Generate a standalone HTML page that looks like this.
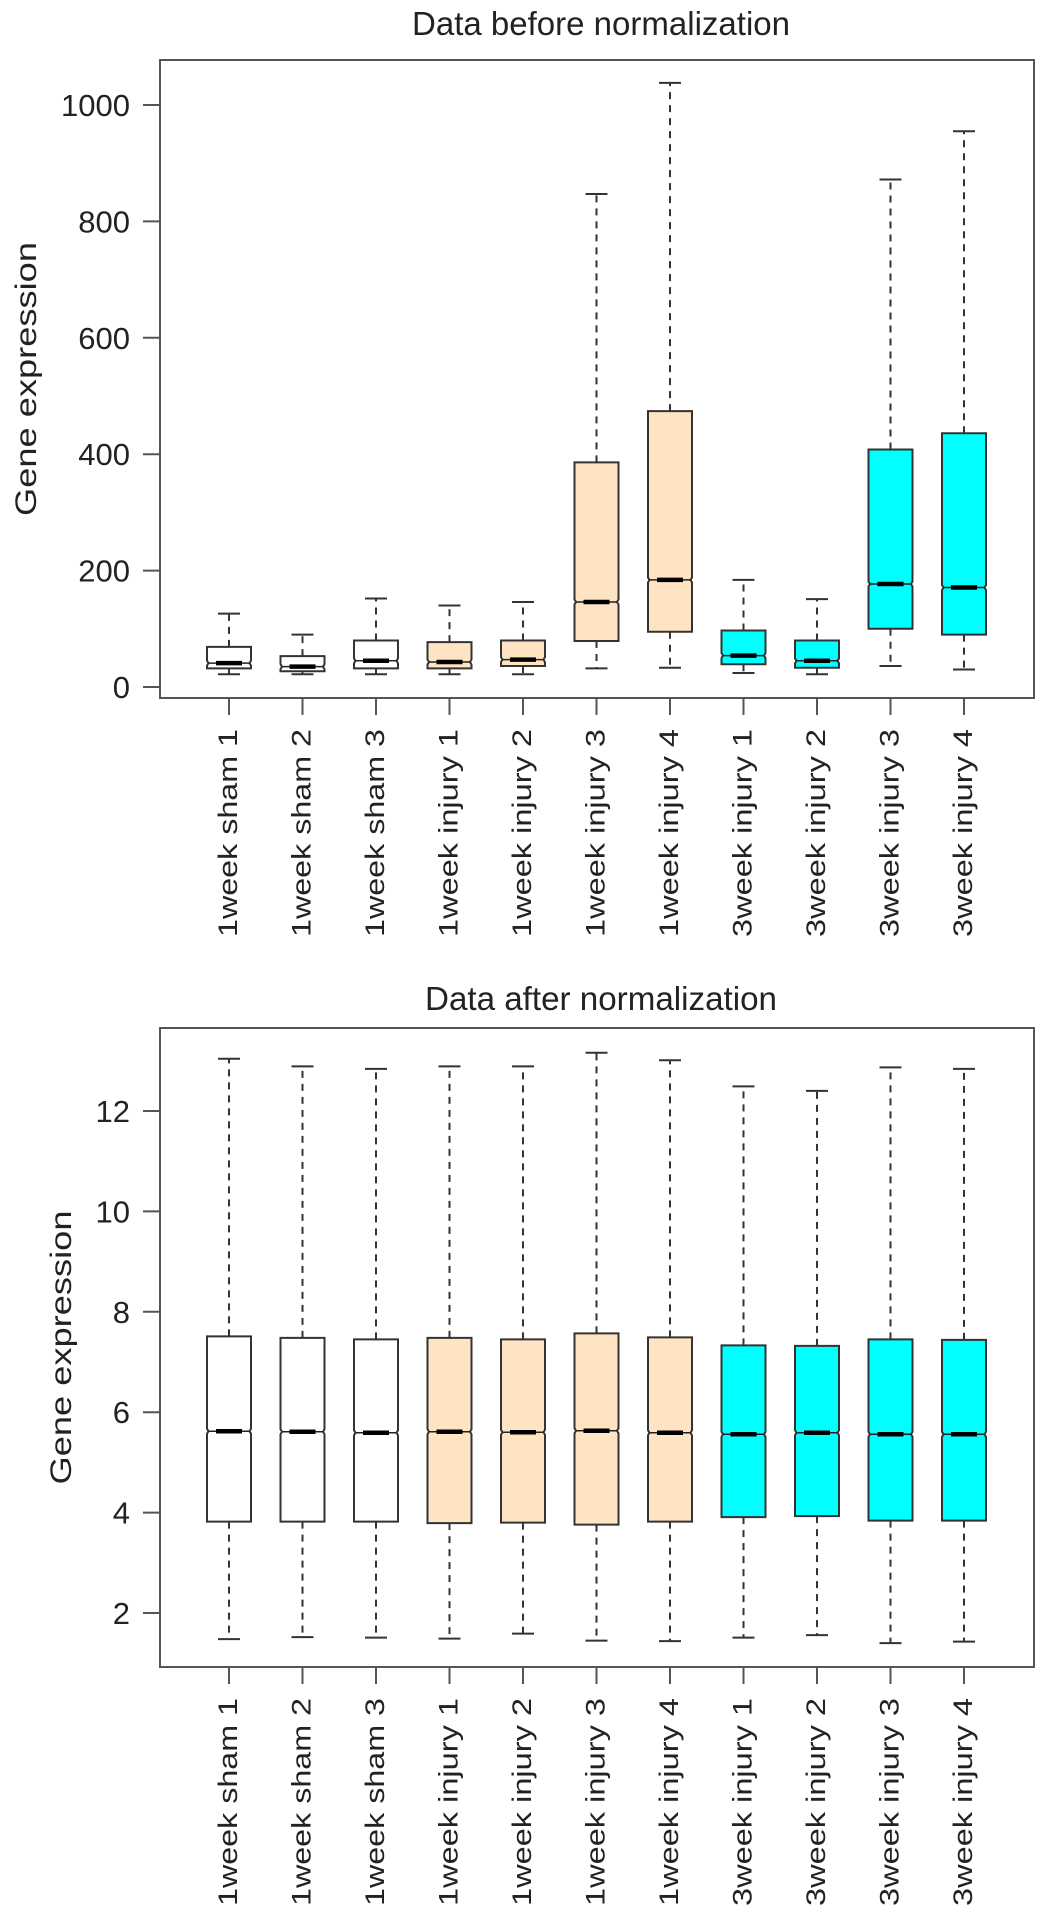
<!DOCTYPE html>
<html><head><meta charset="utf-8"><style>
html,body{margin:0;padding:0;background:#fff;}
svg{display:block;font-family:"Liberation Sans",Arial,sans-serif;}
</style></head><body>
<svg id="chart" width="1047" height="1921" viewBox="0 0 1047 1921" xmlns="http://www.w3.org/2000/svg"></svg>
<script>
const categories = ["1week sham 1","1week sham 2","1week sham 3","1week injury 1","1week injury 2","1week injury 3","1week injury 4","3week injury 1","3week injury 2","3week injury 3","3week injury 4"];
const groupColors = ["#ffffff","#ffffff","#ffffff","#ffe4c4","#ffe4c4","#ffe4c4","#ffe4c4","#00ffff","#00ffff","#00ffff","#00ffff"];
// Before normalization
const beforeMin = [22,22,22,22,22,32,33,24,22,36,30];
const beforeQ1 = [32,27,32,32,36,79,95,39,33,100,90];
const beforeMed = [41,35,45,43,47,146,184,54,45,177,171];
const beforeQ3 = [69,53,80,77,80,386,474,97,80,408,436];
const beforeMax = [126,90,152,140,146,847,1038,184,151,872,955];
const beforeTicks = [0,200,400,600,800,1000];
// After normalization
const afterMin = [1.48,1.52,1.51,1.49,1.59,1.45,1.44,1.51,1.56,1.40,1.43];
const afterQ1 = [3.82,3.82,3.82,3.79,3.80,3.76,3.82,3.91,3.93,3.84,3.84];
const afterMed = [5.62,5.61,5.59,5.61,5.60,5.63,5.59,5.56,5.59,5.56,5.56];
const afterQ3 = [7.51,7.48,7.45,7.48,7.45,7.57,7.49,7.33,7.32,7.45,7.44];
const afterMax = [13.04,12.89,12.84,12.89,12.89,13.16,13.01,12.49,12.40,12.87,12.84];
const afterTicks = [2,4,6,8,10,12];

const NS = "http://www.w3.org/2000/svg";
const svg = document.getElementById("chart");
function mk(tag, attrs, parent){
  const e = document.createElementNS(NS, tag);
  for (const k in attrs) e.setAttribute(k, attrs[k]);
  (parent||svg).appendChild(e);
  return e;
}
const xPos = i => 229 + i*73.5;

function drawPanel(cfg){
  const g = mk("g", {});
  
  
  const yScale = v => cfg.y0px + (v - cfg.v0) * (cfg.y1px - cfg.y0px) / (cfg.v1 - cfg.v0);
  const t = mk("text", {x:601, y:cfg.titleY, "font-size":33, "text-anchor":"middle", fill:"#222",
    textLength:cfg.titleLen, lengthAdjust:"spacingAndGlyphs"}, g);
  t.textContent = cfg.title;
  
  
  const fr = mk("rect", {x:160, y:cfg.top, width:874, height:cfg.bottom-cfg.top, fill:"none", stroke:"#555", "stroke-width":2}, g);
  
  
  const yt = mk("text", {x:0, y:0, "font-size":30, "text-anchor":"middle", fill:"#222",
    textLength:274, lengthAdjust:"spacingAndGlyphs",
    transform:`translate(${cfg.ytitleX},${(cfg.top+cfg.bottom)/2}) rotate(-90)`}, g);
  yt.textContent = "Gene expression";
  
  
  cfg.ticks.forEach(v => {
    const y = yScale(v);
    const tk = mk("line", {x1:143, x2:160, y1:y, y2:y, stroke:"#555", "stroke-width":2}, g);
    
    
    const tl = mk("text", {x:130, y:y+11, "font-size":31, "text-anchor":"end", fill:"#222"}, g);
    tl.textContent = String(v);
    
    
  });
  categories.forEach((c, i) => {
    const x = xPos(i);
    const bg = mk("g", {}, g);
    
    
    const yMin = yScale(cfg.mn[i]), yQ1 = yScale(cfg.q1[i]), yMed = yScale(cfg.md[i]),
          yQ3 = yScale(cfg.q3[i]), yMax = yScale(cfg.mx[i]);
    mk("line", {x1:x, x2:x, y1:yQ3, y2:yMax, stroke:"#333", "stroke-width":2, "stroke-dasharray":"7,6"}, bg);
    mk("line", {x1:x, x2:x, y1:yQ1, y2:yMin, stroke:"#333", "stroke-width":2, "stroke-dasharray":"7,6"}, bg);
    mk("line", {x1:x-11, x2:x+11, y1:yMax, y2:yMax, stroke:"#333", "stroke-width":2}, bg);
    mk("line", {x1:x-11, x2:x+11, y1:yMin, y2:yMin, stroke:"#333", "stroke-width":2}, bg);
    const hw = 22, nd = 1.5, nh = Math.min(2.5, (yQ1-yQ3)/4);
    const pts = [[x-hw,yQ3],[x+hw,yQ3],[x+hw,yMed-nh],[x+hw-nd,yMed],[x+hw,yMed+nh],[x+hw,yQ1],
                 [x-hw,yQ1],[x-hw,yMed+nh],[x-hw+nd,yMed],[x-hw,yMed-nh]].map(p=>p.join(",")).join(" ");
    mk("polygon", {points:pts, fill:groupColors[i], stroke:"#333", "stroke-width":2}, bg);
    mk("line", {x1:x-hw+nd, x2:x+hw-nd, y1:yMed, y2:yMed, stroke:"#222", "stroke-width":1.5}, bg);
    mk("line", {x1:x-13, x2:x+13, y1:yMed, y2:yMed, stroke:"#000", "stroke-width":4.5}, bg);
    const xt = mk("line", {x1:x, x2:x, y1:cfg.bottom, y2:cfg.bottom+17, stroke:"#555", "stroke-width":2}, g);
    
    
    const xl = mk("text", {x:0, y:0, "font-size":27, "text-anchor":"end", fill:"#222",
      textLength:208, lengthAdjust:"spacingAndGlyphs",
      transform:`translate(${x+8},${cfg.labelTop}) rotate(-90)`}, g);
    xl.textContent = c;
    
    
  });
}

drawPanel({name:"before-normalization-panel", title:"Data before normalization", titleY:35, titleLen:378,
  top:60, bottom:698, y0px:687, v0:0, y1px:105, v1:1000, ytitleX:36, labelTop:729,
  ticks:beforeTicks, mn:beforeMin, q1:beforeQ1, md:beforeMed, q3:beforeQ3, mx:beforeMax});
drawPanel({name:"after-normalization-panel", title:"Data after normalization", titleY:1010, titleLen:352,
  top:1028, bottom:1667, y0px:1613, v0:2, y1px:1111, v1:12, ytitleX:71, labelTop:1698,
  ticks:afterTicks, mn:afterMin, q1:afterQ1, md:afterMed, q3:afterQ3, mx:afterMax});
</script>
</body></html>
